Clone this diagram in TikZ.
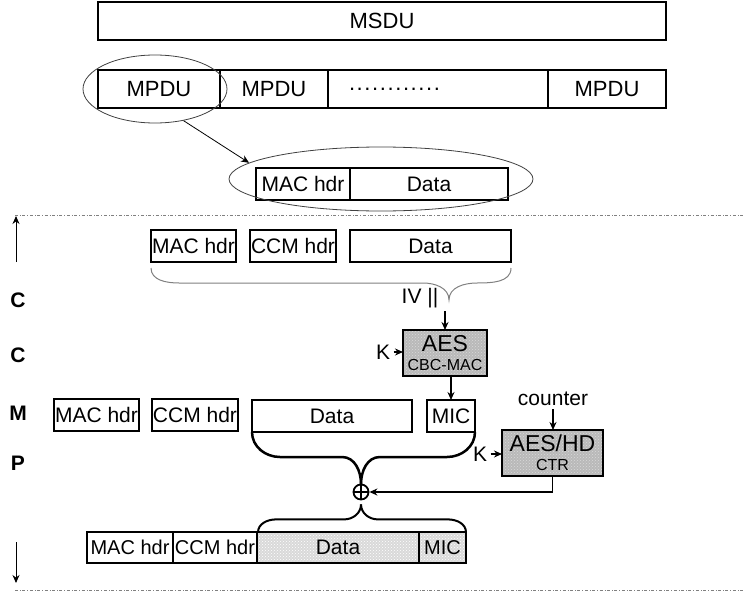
\documentclass[tikz,border=0pt]{standalone}
\usepackage{fontspec}
\setmainfont{Liberation Sans}
\usetikzlibrary{shapes.geometric, arrows.meta, positioning, patterns}

\begin{document}
\begin{tikzpicture}[
    x=1pt, y=-1pt,
    font=\fontsize{21}{23}\selectfont,
    node distance=0pt,
    box/.style={rectangle, draw=black, line width=2pt, inner sep=1pt,
                outer sep=0pt, minimum height=32pt, text centered},
    topbox/.style={box, minimum height=38pt, font=\fontsize{22}{24}\selectfont},
    aesbox/.style={box, minimum height=46pt, align=center,
                preaction={fill=gray!55}, pattern=crosshatch dots,
                pattern color=gray!30},
    encbox/.style={box, preaction={fill=gray!30}, pattern=crosshatch dots,
                pattern color=white},
    ring/.style={ellipse, draw=black!75, line width=0.8pt, inner sep=0pt},
    sep/.style={draw=gray, dash dot, line width=0.8pt},
    arrow/.style={-{Stealth[length=8pt, width=7pt]}, line width=1.4pt},
    thinbrace/.style={draw=gray, line width=1pt},
    thickbrace/.style={draw=black, line width=2.5pt},
    stage/.style={font=\fontsize{21}{23}\selectfont\bfseries},
    xor/.style={circle, draw, line width=1.8pt, minimum size=15pt,
                inner sep=0pt,
                path picture={\draw[line width=1.8pt]
                    (path picture bounding box.north) -- (path picture bounding box.south)
                    (path picture bounding box.west) -- (path picture bounding box.east);}},
]
\useasboundingbox (0,0) rectangle (744,594);

% MSDU and fragments
\node[topbox, minimum width=568pt] (msdu) at (382,21) {MSDU};
\node[topbox, minimum width=122pt] (mpdua) at (159,89) {MPDU};
\node[topbox, minimum width=108pt, right=of mpdua] (mpdub) {MPDU};
\node[topbox, text width=178pt, inner xsep=21pt, align=left,
    right=of mpdub] (mpdudots) {\foreach \i in {1,...,12}{.\kern1.6pt}};
\node[topbox, minimum width=118pt, right=of mpdudots] (mpduc) {MPDU};

% selected MPDU
\node[ring, minimum width=144pt, minimum height=68pt] (sel) at (155,89) {};
\node[box, minimum width=94pt] (macz) at (303,184) {MAC hdr};
\node[box, minimum width=158pt, right=of macz] (dataz) {Data};
\node[ring, minimum width=304pt, minimum height=64pt] (zoomring) at (381,179) {};
\draw[arrow, line width=0.8pt] (sel.-48) -- (zoomring.173);

% separators
\draw[sep] (15,215) -- (744,215);
\draw[sep] (15,590) -- (744,590);
\draw[arrow, line width=1pt] (16,262) -- (16,216);
\draw[arrow, line width=1pt] (16,542) -- (16,583);

% CCMP letters
\node[stage] (c1) at (18,300) {C};
\node[stage] (c2) at (18,355) {C};
\node[stage] (m1) at (18,413) {M};
\node[stage] (p1) at (18,463) {P};

% MIC computation
\node[box, minimum width=85pt] (mac2) at (193.5,246) {MAC hdr};
\node[box, minimum width=86pt, right=14pt of mac2] (ccm2) {CCM hdr};
\node[box, minimum width=161pt, right=14pt of ccm2] (data2) {Data};
\draw[thinbrace] ([yshift=-6pt]mac2.south west) to[out=-90, in=180] ++(28,15)
    -- ++(244,0) to[out=0, in=90] ++(26,17) to[out=90, in=180] ++(28,-17)
    to[out=0, in=-90] ++(34,-15);
\node (iv) at (420,298) {IV ||};
\node[aesbox, minimum width=84pt] (aes) at (445,353)
    {\fontsize{23}{24}\selectfont AES\\[-4pt]\fontsize{16}{17}\selectfont CBC-MAC};
\draw[arrow] (iv.south -| aes.north) -- (aes.north);
\node (k1) at (383,352) {K};
\draw[arrow] (k1.east) -- (k1.east -| aes.west);

% M row
\node[box, minimum width=85pt] (mac3) at (96.5,415) {MAC hdr};
\node[box, minimum width=84pt] (ccm3) at (195,415) {CCM hdr};
\node[box, minimum width=160pt] (data3) at (332,416) {Data};
\node[box, minimum width=48pt] (mic3) at (451,416) {MIC};
\draw[arrow] (aes.south -| mic3.north) -- (mic3.north);

% encryption
\node[xor] (xor) at (361,492) {};
\draw[thickbrace] (data3.south west) to[out=-90, in=180] ++(28,25)
    -- ++(62,0) to[out=0, in=90] ++(19,27);
\draw[thickbrace] (mic3.south east) to[out=-90, in=0] ++(-28,25)
    -- ++(-67,0) to[out=180, in=90] ++(-19,27);
\node[aesbox, minimum width=101pt] (ctr) at (552.5,453)
    {\fontsize{23}{24}\selectfont AES/HD\\[-4pt]\fontsize{16}{17}\selectfont CTR};
\node (cnt) at (553,399) {counter};
\draw[arrow] (cnt.south) -- (cnt.south |- ctr.north);
\node (k2) at (480,454) {K};
\draw[arrow] (k2.east) -- (k2.east -| ctr.west);
\draw[arrow] (ctr.south) |- (xor.east);

% result
\draw[thickbrace, line width=2pt] ([yshift=-4pt]xor.south) to[out=-90, in=0] ++(-17,15)
    -- ++(-68,0) to[out=180, in=90] ++(-18,13);
\draw[thickbrace, line width=2pt] ([yshift=-4pt]xor.south) to[out=-90, in=180] ++(17,15)
    -- ++(70,0) to[out=0, in=90] ++(18,13);
\node[box, minimum width=86pt, minimum height=31pt, font=\fontsize{20}{22}\selectfont]
    (mac4) at (130,547.5) {MAC hdr};
\node[box, minimum width=84pt, minimum height=31pt, font=\fontsize{20}{22}\selectfont,
    right=of mac4] (ccm4) {CCM hdr};
\node[encbox, minimum width=162pt, minimum height=31pt, right=of ccm4] (data4) {Data};
\node[encbox, minimum width=47pt, minimum height=31pt, font=\fontsize{20}{22}\selectfont,
    right=of data4] (mic4) {MIC};

\end{tikzpicture}
\end{document}
